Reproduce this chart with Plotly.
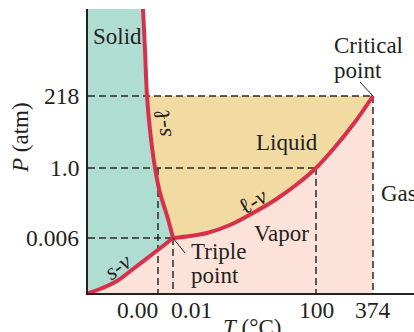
import plotly.graph_objects as go

# Labelled temperatures and pressures and their (schematic, not to scale) axis positions
t_labels = ["0.00", "0.01", "100", "374"]
t_pos = [70, 85, 228, 285]
p_labels = ["0.006", "1.0", "218"]
p_pos = [55, 125, 197]

# Phase boundaries in schematic axis units
sl_x = [55, 57, 59, 62, 67, 72, 76, 80, 85]          # solid-liquid
sl_y = [284, 243, 197, 163, 125, 100, 87, 74, 55]
sv_x = [0, 12, 29, 45, 62, 75, 85]                    # solid-vapor
sv_y = [0, 4, 12, 24, 37, 47, 55]
lv_x = [85, 102, 119, 142, 165, 187, 208, 228, 247, 267, 285]   # liquid-vapor
lv_y = [55, 57, 60, 68, 80, 93, 108, 125, 146, 171, 197]

X_MAX, Y_MAX = 326, 284
FONT = "Liberation Serif"
TXT = "#231f20"
FS = 23

fig = go.Figure()

# Phase regions
solid_x = [0] + sl_x + sv_x[::-1][1:]
solid_y = [Y_MAX] + sl_y + sv_y[::-1][1:]
liquid_x = sl_x[2:] + lv_x[1:]
liquid_y = sl_y[2:] + lv_y[1:]
vapor_x = sv_x + lv_x[1:] + [lv_x[-1]]
vapor_y = sv_y + lv_y[1:] + [0]
for xs, ys, col in [(solid_x, solid_y, "#b0ddd2"),
                    (liquid_x, liquid_y, "#f1dba3"),
                    (vapor_x, vapor_y, "#fde2da")]:
    fig.add_trace(go.Scatter(x=xs, y=ys, mode="lines", fill="toself",
                             fillcolor=col, line=dict(width=0),
                             hoverinfo="skip", showlegend=False))

# Dashed guide lines from the axes to the labelled states
T = dict(zip(t_labels, t_pos))
P = dict(zip(p_labels, p_pos))
h_guides = [("0.006", "0.01"), ("1.0", "100"), ("218", "374")]
v_guides = [("0.00", "1.0"), ("0.01", "0.006"), ("100", "1.0"), ("374", "218")]
gx, gy = [], []
for p, t in h_guides:
    gx += [0, T[t], None]
    gy += [P[p], P[p], None]
for t, p in v_guides:
    gx += [T[t], T[t], None]
    gy += [P[p], 0, None]
fig.add_trace(go.Scatter(x=gx, y=gy, mode="lines",
                         line=dict(color="#2a2a2a", width=1.5, dash="7px,4px"),
                         hoverinfo="skip", showlegend=False))

# Phase boundary curves
for xs, ys in [(sl_x, sl_y), (sv_x, sv_y), (lv_x, lv_y)]:
    fig.add_trace(go.Scatter(x=xs, y=ys, mode="lines",
                             line=dict(color="#d7304a", width=4, shape="spline",
                                       smoothing=0.9),
                             hoverinfo="skip", showlegend=False))

# Leader lines for the triple and critical points
fig.add_trace(go.Scatter(x=[97, lv_x[0], None, 272, lv_x[-1]],
                         y=[40, lv_y[0], None, 211, lv_y[-1]],
                         mode="lines", line=dict(color=TXT, width=1),
                         hoverinfo="skip", showlegend=False))


def note(text, x, y, xanchor="center", angle=0, size=FS):
    """Place text at axis-unit coordinates (given in paper units so it may sit outside the plot)."""
    fig.add_annotation(text=text, x=x / X_MAX, y=y / Y_MAX, xref="paper", yref="paper",
                       xanchor=xanchor, yanchor="middle", textangle=angle,
                       showarrow=False, font=dict(family=FONT, size=size, color=TXT))


# Tick labels
t_anchor = ["right", "left", "center", "center"]
t_shift = [2, -4, 0, 0]
for lab, x, anc, dx in zip(t_labels, t_pos, t_anchor, t_shift):
    note(lab, x + dx, -16.5, xanchor=anc, size=23.5)
for lab, y in zip(p_labels, p_pos):
    note(lab, -7, y, xanchor="right", size=23.5)

# Axis titles
note("<i>P</i> (atm)", -68, 155, angle=-90)
note("<i>T</i> (°C)", 164, -34)

# Region and curve labels
note("Solid", 3, 256, xanchor="left")
note("Liquid", 199, 151)
note("Vapor", 193, 60)
note("Gas", 291, 100, xanchor="left")
note("Critical", 244, 248, xanchor="left")
note("point", 244, 223, xanchor="left")
note("Triple", 101, 42, xanchor="left")
note("point", 101, 18, xanchor="left")
note("<i>s</i>-ℓ", 74, 170, angle=-95)
note("ℓ-<i>v</i>", 165, 92, angle=-31)
note("<i>s</i>-<i>v</i>", 30, 27, angle=-36)

axis_common = dict(showgrid=False, zeroline=False, showticklabels=False,
                   ticks="", showline=True, linecolor="#222222", linewidth=1.5)
fig.update_layout(
    width=414, height=332,
    margin=dict(l=88, r=0, t=9, b=39),
    paper_bgcolor="white", plot_bgcolor="white",
    xaxis=dict(range=[0, X_MAX], **axis_common),
    yaxis=dict(range=[0, Y_MAX], **axis_common),
    showlegend=False,
)

fig.write_html("out.html")
